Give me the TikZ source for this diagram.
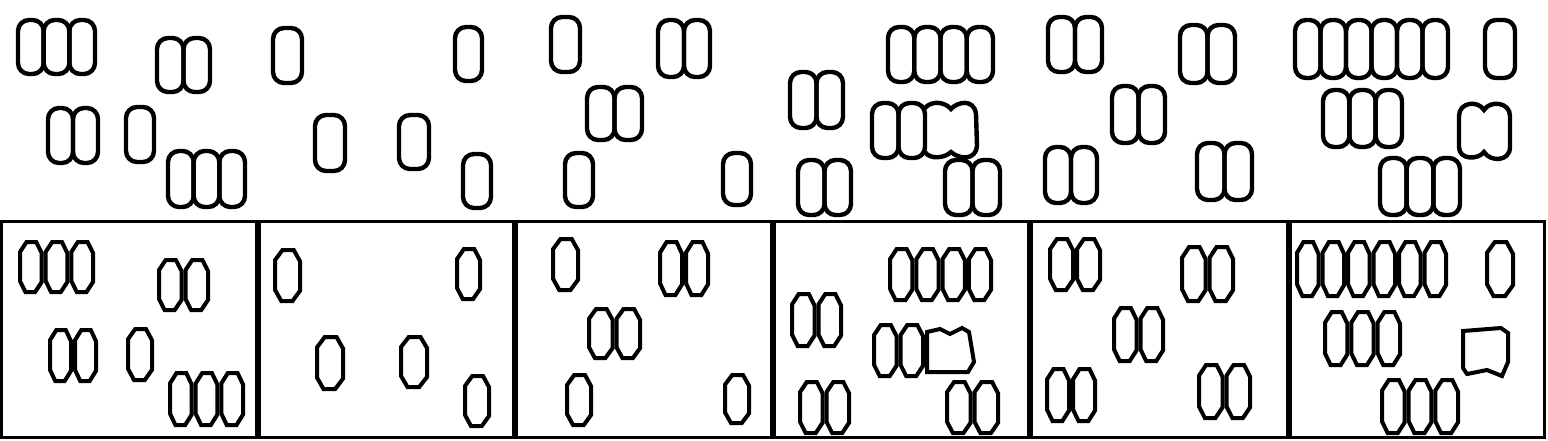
\documentclass[tikz,border=0pt]{standalone}
\begin{document}
\begin{tikzpicture}[x=1pt,y=-1pt,
  topc/.style={draw=black,line width=4.4pt,rounded corners=11pt},
  topw/.style={draw=black,line width=4.4pt},
  botc/.style={draw=black,line width=4pt,line join=miter},
  boxc/.style={draw=black,line width=3pt}]
\useasboundingbox (0,0) rectangle (1548,440);
\newcommand\hexc[4]{%
 \pgfmathsetmacro\hw{(#3)-(#1)}\pgfmathsetmacro\hh{(#4)-(#2)}%
 \draw[botc] ({#1+0.3*\hw},{#2}) -- ({#3-0.25*\hw},{#2}) -- ({#3},{#2+0.22*\hh}) -- ({#3},{#4-0.2*\hh}) -- ({#3-0.3*\hw},{#4}) -- ({#1+0.25*\hw},{#4}) -- ({#1},{#4-0.22*\hh}) -- ({#1},{#2+0.2*\hh}) -- cycle;}
\newcommand\clT[5]{%
 \pgfmathsetmacro\cw{((#2)-(#1))/#5}%
 \foreach \i in {1,...,#5}{\draw[topc] ({#1+(\i-1)*\cw},#3) rectangle ({#1+\i*\cw},#4);}%
 \foreach \i in {1,...,#5}{\hexc{#1+(\i-1)*\cw+2}{#3+222}{#1+\i*\cw-2}{#4+218}}}
% boxes
\foreach \a/\b in {0/258,258/515,515/773,773/1030,1030/1289,1289/1546}
  \draw[boxc] (\a+1.5,221) rectangle (\b-1.5,437);
% panel 1
\clT{18}{95}{20}{74}{3}
\clT{157}{210}{38}{92}{2}
\clT{48}{98}{108}{163}{2}
\clT{126}{154}{107}{162}{1}
\clT{168}{245}{151}{207}{3}
% panel 2
\clT{273}{302}{28}{83}{1}
\clT{455}{482}{27}{81}{1}
\clT{315}{345}{115}{171}{1}
\clT{399}{429}{115}{169}{1}
\clT{463}{491}{154}{208}{1}
% panel 3
\clT{551}{580}{17}{72}{1}
\clT{658}{710}{20}{77}{2}
\clT{587}{642}{87}{140}{2}
\clT{565}{593}{153}{207}{1}
\clT{723}{751}{153}{205}{1}
% panel 4
\clT{790}{843}{72}{128}{2}
\clT{798}{851}{160}{215}{2}
\clT{888}{993}{27}{82}{4}
\clT{872}{925}{103}{158}{2}
\clT{945}{1000}{160}{215}{2}
\draw[topw] (925,108) .. controls (932,100) and (945,102) .. (951,109) .. controls (957,102) and (974,98) .. (976,114) -- (977,146) .. controls (976,160) and (960,160) .. (951,152) .. controls (945,158) and (930,160) .. (925,152);
\draw[botc] (927,332) -- (940,329) -- (950,334) -- (962,328) -- (969,332) -- (974,362) -- (968,372) -- (927,372) -- cycle;
% panel 5
\clT{1048}{1102}{17}{72}{2}
\clT{1180}{1235}{25}{83}{2}
\clT{1112}{1165}{86}{143}{2}
\clT{1045}{1097}{147}{203}{2}
\clT{1197}{1252}{143}{200}{2}
% panel 6
\clT{1295}{1448}{20}{78}{6}
\clT{1485}{1515}{20}{78}{1}
\clT{1323}{1402}{90}{147}{3}
\clT{1380}{1460}{158}{215}{3}
\draw[topw] (1459,116) .. controls (1459,102) and (1478,100) .. (1484,110) .. controls (1490,100) and (1510,102) .. (1510,116) -- (1510,147) .. controls (1510,162) and (1490,162) .. (1484,152) .. controls (1478,160) and (1459,160) .. (1459,147) -- cycle;
\draw[botc] (1463,331) -- (1501,328) -- (1508,333) -- (1508,362) -- (1502,376) -- (1487,370) -- (1467,374) -- (1463,368) -- cycle;
\end{tikzpicture}
\end{document}
